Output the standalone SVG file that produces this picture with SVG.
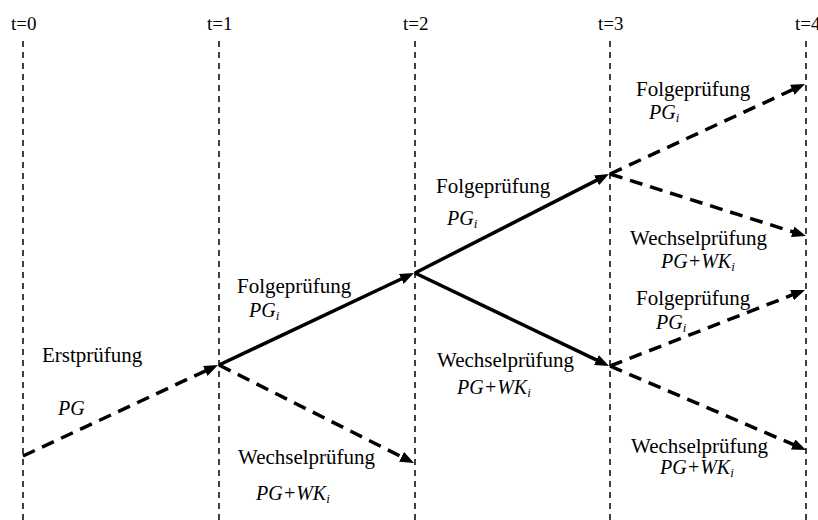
<svg xmlns="http://www.w3.org/2000/svg" width="818" height="520" viewBox="0 0 818 520">
<style>
text{font-family:'Liberation Serif','Times New Roman','DejaVu Serif',serif;font-size:21px;fill:#000}
.t{font-size:19px}
.it{font-style:italic;font-size:20px}
.sub{font-size:13px}
.grid{stroke:#000;stroke-width:1.5;stroke-dasharray:6 5;fill:none}
.solid{stroke:#000;stroke-width:3.5;fill:none;marker-end:url(#ah)}
.dash{stroke:#000;stroke-width:3.5;fill:none;stroke-dasharray:13 8;marker-end:url(#ah)}
</style>
<defs>
<marker id="ah" viewBox="0 0 14 11" refX="1" refY="5.5" markerWidth="14" markerHeight="11" markerUnits="userSpaceOnUse" orient="auto">
<path d="M0,0 L14,5.5 L0,11 z" fill="#000"/>
</marker>
</defs>
<rect width="818" height="520" fill="#fff"/>
<g id="timeline">
<line class="grid" x1="23" y1="41" x2="23" y2="520"/>
<line class="grid" x1="219" y1="41" x2="219" y2="520"/>
<line class="grid" x1="415" y1="41" x2="415" y2="520"/>
<line class="grid" x1="610" y1="41" x2="610" y2="520"/>
<line class="grid" x1="806" y1="41" x2="806" y2="520"/>
<text class="t" x="11" y="30">t=0</text>
<text class="t" x="207" y="30">t=1</text>
<text class="t" x="403" y="30">t=2</text>
<text class="t" x="598" y="30">t=3</text>
<text class="t" x="795" y="30">t=4</text>
</g>
<g id="connectors">
<line class="dash" x1="23" y1="456" x2="206.2" y2="370.5"/>
<line class="dash" x1="219" y1="365" x2="402.4" y2="457.2"/>
<line class="solid" x1="219" y1="365" x2="402.2" y2="278.5"/>
<line class="solid" x1="415" y1="273" x2="597.4" y2="179.9"/>
<line class="solid" x1="415" y1="273" x2="597.3" y2="360.4"/>
<line class="dash" x1="610" y1="174" x2="793.2" y2="89.4"/>
<line class="dash" x1="610" y1="174" x2="793.6" y2="232.1"/>
<line class="dash" x1="610" y1="366" x2="792.9" y2="294.7"/>
<line class="dash" x1="610" y1="366" x2="794.1" y2="444.9"/>
</g>
<g id="erst">
<text x="42" y="362">Erstprüfung</text>
<text class="it" x="58" y="415">PG</text>
</g>
<g id="folge1">
<text x="237" y="293">Folgeprüfung</text>
<text class="it" x="249" y="317">PG<tspan class="sub" dy="3">i</tspan></text>
</g>
<g id="wechsel1">
<text x="238" y="464">Wechselprüfung</text>
<text class="it" x="256" y="500">PG+WK<tspan class="sub" dy="3">i</tspan></text>
</g>
<g id="folge2">
<text x="436" y="193">Folgeprüfung</text>
<text class="it" x="447" y="225">PG<tspan class="sub" dy="3">i</tspan></text>
</g>
<g id="wechsel2">
<text x="437" y="367">Wechselprüfung</text>
<text class="it" x="457" y="394">PG+WK<tspan class="sub" dy="3">i</tspan></text>
</g>
<g id="folge3a">
<text x="636" y="96">Folgeprüfung</text>
<text class="it" x="649" y="119">PG<tspan class="sub" dy="3">i</tspan></text>
</g>
<g id="wechsel3a">
<text x="630" y="245">Wechselprüfung</text>
<text class="it" x="661" y="268">PG+WK<tspan class="sub" dy="3">i</tspan></text>
</g>
<g id="folge3b">
<text x="636" y="305">Folgeprüfung</text>
<text class="it" x="656" y="329">PG<tspan class="sub" dy="3">i</tspan></text>
</g>
<g id="wechsel3b">
<text x="631" y="453">Wechselprüfung</text>
<text class="it" x="660" y="474">PG+WK<tspan class="sub" dy="3">i</tspan></text>
</g>
</svg>
